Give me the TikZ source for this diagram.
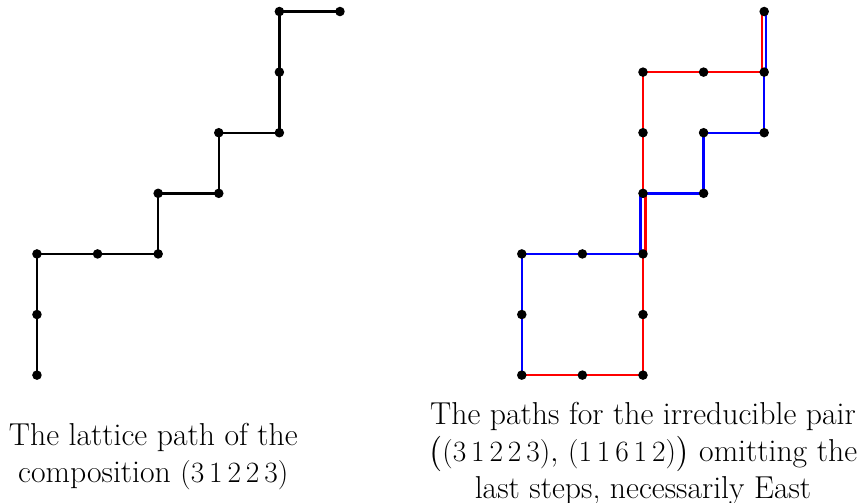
\documentclass[tikz,border=0pt]{standalone}
\usepackage{amsmath}
\tikzset{
  pathline/.style={line width=1.4pt},
  dot/.style={circle, fill=black, inner sep=0pt, minimum size=5.6pt},
  caption/.style={align=center, font=\fontsize{18.6}{21.6}\selectfont}
}
\begin{document}
\begin{tikzpicture}[x=1.25cm, y=1.25cm]
  \useasboundingbox (-0.61,-2.096) rectangle (13.68,6.19);

  % left lattice path: composition (3 1 2 2 3)
  \foreach \n/\x/\y in {a0/0/0,a1/0/1,a2/0/2,a3/1/2,a4/2/2,a5/2/3,
                        a6/3/3,a7/3/4,a8/4/4,a9/4/5,a10/4/6,a11/5/6}
    \coordinate (\n) at (\x,\y);
  \draw[pathline] (a0) -- (a1) -- (a2) -- (a3) -- (a4) -- (a5) -- (a6) -- (a7)
                  -- (a8) -- (a9) -- (a10) -- (a11);
  \foreach \n in {a0,a1,a2,a3,a4,a5,a6,a7,a8,a9,a10,a11}
    \node[dot] at (\n) {};

  % right: lattice points of the irreducible pair
  \foreach \n/\x/\y in {b00/8/0,b10/9/0,b20/10/0,b01/8/1,b21/10/1,
                        b02/8/2,b12/9/2,b22/10/2,b23/10/3,b33/11/3,
                        b24/10/4,b34/11/4,b44/12/4,b25/10/5,b35/11/5,
                        b45/12/5,b46/12/6}
    \coordinate (\n) at (\x,\y);

  % blue path (3 1 2 2 3)
  \draw[pathline, blue] (b00) -- (b02) -- (b22) -- ([xshift=-1.5pt]b22)
        -- ([xshift=-1.5pt]b23) -- (b23) -- (b33) -- (b34) -- (b44) -- (b45)
        -- ([xshift=1.2pt]b45) -- ([xshift=1.2pt]b46) -- (b46);
  % red path (1 1 6 1 2)
  \draw[pathline, red] (b00) -- (b20) -- (b22) -- ([xshift=1.5pt]b22)
        -- ([xshift=1.5pt]b23) -- (b23) -- (b25) -- (b45) -- ([xshift=-1.4pt]b45)
        -- ([xshift=-1.4pt]b46) -- (b46);

  \foreach \n in {b00,b10,b20,b01,b21,b02,b12,b22,b23,b33,b24,b34,b44,b25,b35,b45,b46}
    \node[dot] at (\n) {};

  % captions
  \node[caption] (capL) at (1.92,-1.35)
    {The lattice path of the\\ composition $(3\,1\,2\,2\,3)$};
  \node[caption] (capR) at (10,-1.29)
    {The paths for the irreducible pair\\
     $\bigl((3\,1\,2\,2\,3),\,(1\,1\,6\,1\,2)\bigr)$ omitting the\\
     last steps, necessarily East};
\end{tikzpicture}
\end{document}
